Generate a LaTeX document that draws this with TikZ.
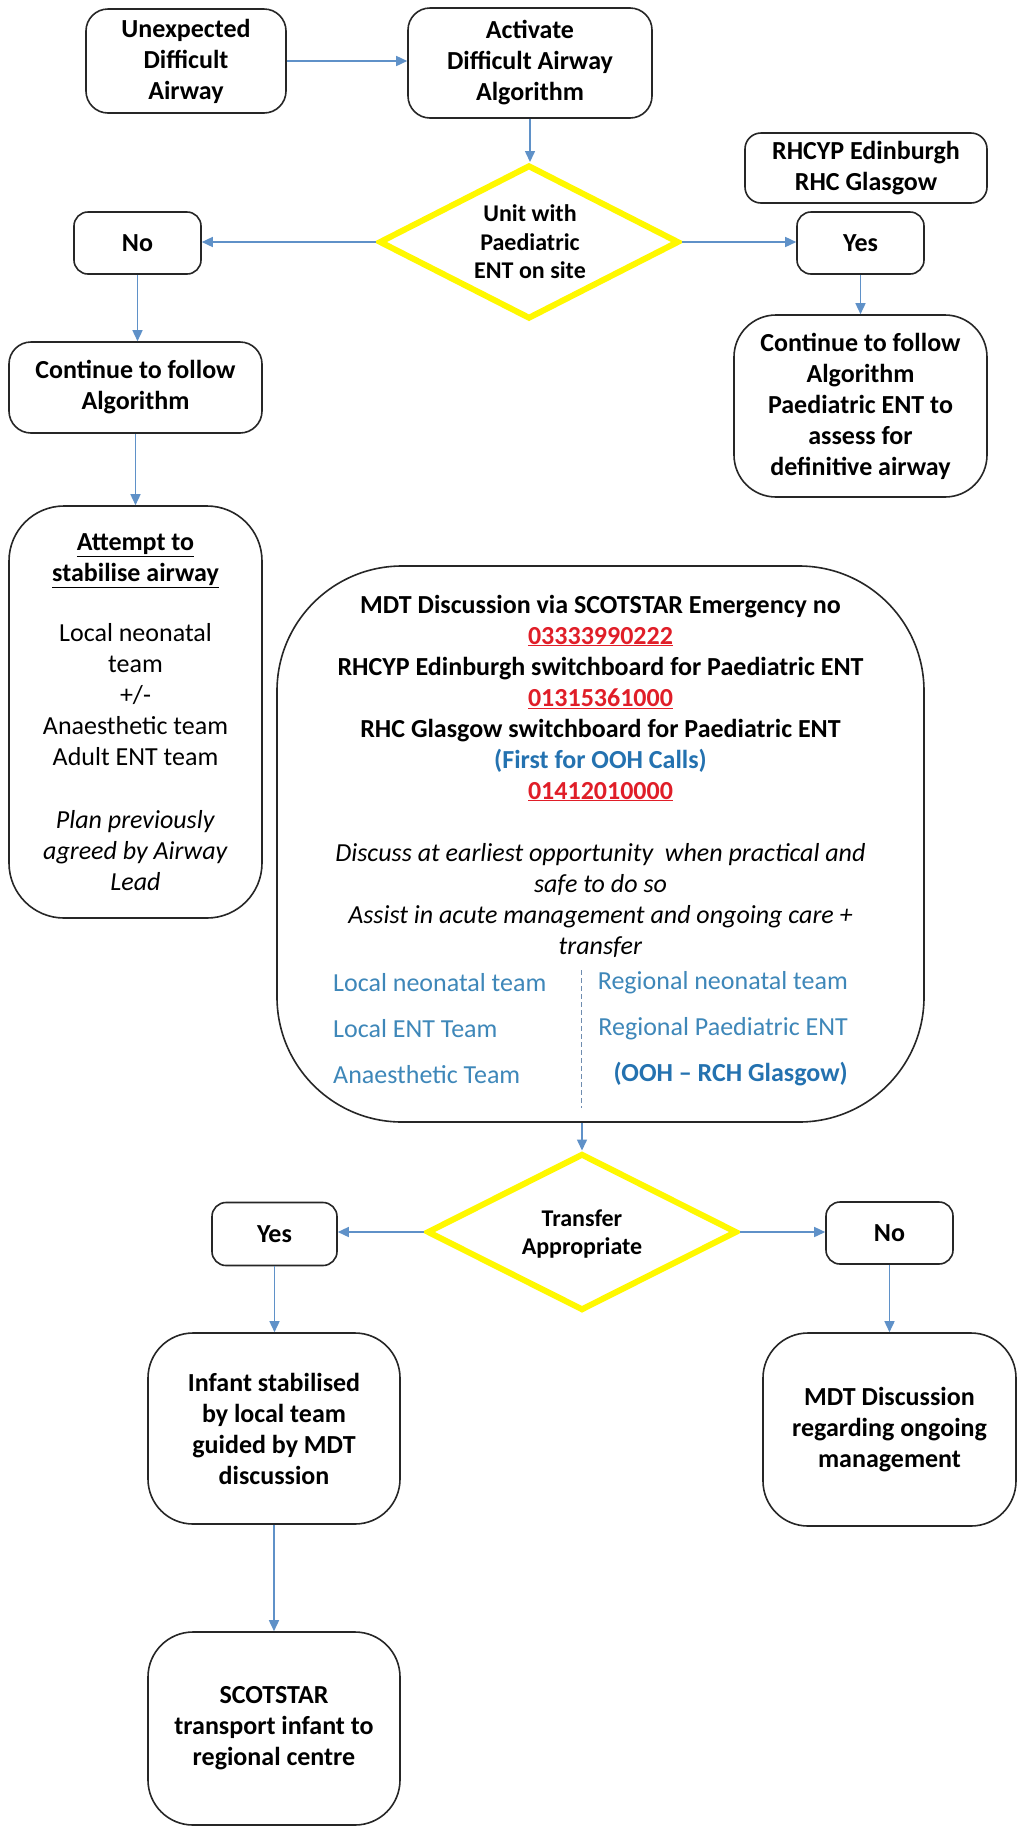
\documentclass[tikz,border=0pt]{standalone}
\usepackage{fontspec}
\setmainfont{Carlito}
\usetikzlibrary{shapes.geometric,arrows.meta}
\definecolor{arrowc}{RGB}{95,145,200}
\definecolor{diayellow}{RGB}{255,248,0}
\definecolor{numred}{RGB}{224,30,40}
\definecolor{colblue}{RGB}{62,135,185}
\definecolor{boldblue}{RGB}{36,114,176}
\definecolor{dashc}{RGB}{110,140,175}
\begin{document}
\begin{tikzpicture}[x=1pt,y=-1pt,
  box/.style={draw=black!85, line width=1.6pt, rounded corners=#1, align=center, inner sep=0pt,
    font=\fontsize{26}{31}\selectfont\bfseries},
  box/.default=20pt,
  dia/.style={diamond, draw=diayellow, line width=6pt, inner sep=0pt},
  diatext/.style={align=center, inner sep=0pt, font=\fontsize{24}{28.5}\selectfont\bfseries},
  arr/.style={draw=arrowc, line width=1.5pt, -{Triangle[length=11pt,width=10pt]}},
  coltext/.style={inner sep=0pt, text=colblue, font=\fontsize{26}{46}\selectfont}
]
\fill[white] (0,0) rectangle (1017,1832);
\useasboundingbox (0,0) rectangle (1017,1832);

% top row
\node[box=22pt, minimum width=200pt, minimum height=104pt] (unexp) at (186,61) {Unexpected\\Difficult\\Airway};
\node[box=22pt, minimum width=244pt, minimum height=110pt] (activ) at (530,63) {Activate\\Difficult Airway\\Algorithm};

% first decision
\node[dia, minimum width=300pt, minimum height=154pt] (dia1) at (529,242) {};
\node[diatext] (dia1t) at (530,242) {Unit with\\Paediatric\\ENT on site};

\node[box=14pt, minimum width=127pt, minimum height=62pt] (no1) at (137.5,243) {No};
\node[box=16pt, minimum width=242pt, minimum height=70pt] (rhc) at (866,168) {RHCYP Edinburgh\\RHC Glasgow};
\node[box=14pt, minimum width=127pt, minimum height=62pt] (yes1) at (860.5,243) {Yes};

\node[box=22pt, minimum width=253pt, minimum height=91pt] (cont1) at (135.5,387.5) {Continue to follow\\Algorithm};
\node[box=42pt, minimum width=253pt, minimum height=182pt] (cont2) at (860.5,406) {Continue to follow\\Algorithm\\Paediatric ENT to\\assess for\\definitive airway};

\node[box=55pt, minimum width=253pt, minimum height=412pt, font=\fontsize{26}{31}\selectfont\mdseries] (attempt) at (135.5,712)
  {\textbf{\underline{Attempt to}}\\\textbf{\underline{stabilise airway}}\\[29pt]
   Local neonatal\\team\\+/-\\Anaesthetic team\\Adult ENT team\\[32pt]
   \textit{Plan previously}\\\textit{agreed by Airway}\\\textit{Lead}};

% MDT box
\node[box=125pt, minimum width=647pt, minimum height=556pt] (mdt) at (600.5,844) {};
\node[align=center, inner sep=0pt, font=\fontsize{26}{31}\selectfont] (mdttext) at (600.5,776)
  {\textbf{MDT Discussion via SCOTSTAR Emergency no}\\
   \textcolor{numred}{\textbf{\underline{03333990222}}}\\
   \textbf{RHCYP Edinburgh switchboard for Paediatric ENT}\\
   \textcolor{numred}{\textbf{\underline{01315361000}}}\\
   \textbf{RHC Glasgow switchboard for Paediatric ENT}\\
   \textcolor{boldblue}{\textbf{(First for OOH Calls)}}\\
   \textcolor{numred}{\textbf{\underline{01412010000}}}\\[31pt]
   \textit{Discuss at earliest opportunity \ when practical and}\\
   \textit{safe to do so}\\
   \textit{Assist in acute management and ongoing care +}\\
   \textit{transfer}};
\node[coltext, align=left, anchor=west] (colleft) at (333,1029)
  {Local neonatal team\\Local ENT Team\\Anaesthetic Team};
\node[coltext, align=right, anchor=east] (colright) at (848,1029)
  {Regional neonatal team\\Regional Paediatric ENT\\\textcolor{boldblue}{\textbf{(OOH -- RCH Glasgow)}}};
\coordinate (dashtop) at (581,970);
\coordinate (dashbot) at (581,1108);
\draw[dashc, line width=1pt, dash pattern=on 5pt off 3pt] (dashtop) -- (dashbot);

% second decision
\node[dia, minimum width=310pt, minimum height=157pt] (dia2) at (582,1232) {};
\node[diatext, font=\fontsize{24}{27.5}\selectfont\bfseries] (dia2t) at (582,1234) {Transfer\\Appropriate};
\node[box=14pt, minimum width=125pt, minimum height=63pt] (yes2) at (274.5,1234) {Yes};
\node[box=14pt, minimum width=127pt, minimum height=62pt] (no2) at (889.5,1233) {No};

\node[box=45pt, minimum width=252pt, minimum height=191pt] (infant) at (274,1428.5) {Infant stabilised\\by local team\\guided by MDT\\discussion};
\node[box=45pt, minimum width=252pt, minimum height=193pt] (scot) at (274,1728.5) {SCOTSTAR\\transport infant to\\regional centre};
\node[box=45pt, minimum width=253pt, minimum height=193pt] (mdt2) at (889.5,1429.5) {MDT Discussion\\regarding ongoing\\management};

% connectors
\draw[arr] (unexp.east) -- (unexp.east -| activ.west);
\draw[arr] (activ.south) -- (activ.south |- dia1.north);
\draw[arr] (dia1.west) -- (dia1.west -| no1.east);
\draw[arr] (dia1.east) -- (dia1.east -| yes1.west);
\draw[arr] (no1.south) -- (no1.south |- cont1.north);
\draw[arr] (cont1.south) -- (cont1.south |- attempt.north);
\draw[arr] (yes1.south) -- (yes1.south |- cont2.north);
\draw[arr] (dia2.north |- mdt.south) -- (dia2.north);
\draw[arr] (dia2.west) -- (dia2.west -| yes2.east);
\draw[arr] (dia2.east) -- (dia2.east -| no2.west);
\draw[arr] (yes2.south) -- (yes2.south |- infant.north);
\draw[arr] (no2.south) -- (no2.south |- mdt2.north);
\draw[arr] (infant.south) -- (infant.south |- scot.north);
\end{tikzpicture}
\end{document}
